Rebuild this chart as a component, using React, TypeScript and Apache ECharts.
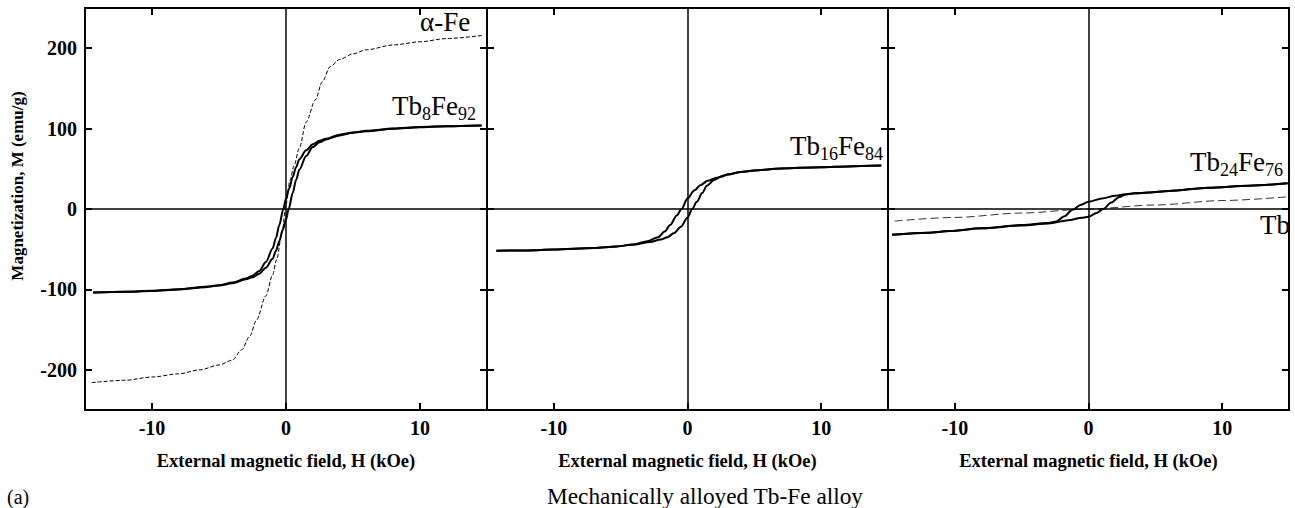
import React, { useEffect, useRef } from "react";
import * as echarts from "echarts";

// Axis ranges and tick positions shared by the three panels
const H_MIN = -15;
const H_MAX = 15;
const M_MIN = -250;
const M_MAX = 250;
const H_TICKS = [-10, 0, 10];
const H_TOP_TICKS = [-10, 10];
const M_TICKS = [-200, -100, 0, 100, 200];
const M_TICK_LABELS = ["-200", "-100", "0", "100", "200"];

// Panel 1: pure alpha-Fe (dashed) and Tb8Fe92 loop, [H (kOe), M (emu/g)]
const alphaFe: [number, number][] = [
  [-14.5, -216], [-12, -213], [-10, -209], [-8, -205], [-6.4, -200], [-5, -194],
  [-4, -188], [-3.3, -175], [-2.7, -158], [-2.2, -138], [-1.5, -108], [-1, -82],
  [-0.7, -63], [-0.3, -30], [0, 6], [0.3, 36], [0.6, 54], [1, 76], [1.5, 108],
  [2.2, 136], [2.7, 158], [3.3, 177], [4, 186], [5, 193], [6, 198], [8, 204],
  [10, 208], [12, 212], [14.7, 216],
];
const tb8Down: [number, number][] = [
  [14.6, 104], [12, 103], [10, 102], [8, 100], [6, 97.2], [5, 95.3], [4, 92.5],
  [3, 87.5], [2.5, 85], [2, 80.5], [1.5, 73], [1, 62], [0.75, 52], [0.5, 40],
  [0.25, 26], [0, 13], [-0.2, 0], [-0.5, -20], [-0.75, -36], [-1, -49],
  [-1.5, -66], [-2, -77], [-2.5, -83], [-3, -86.5], [-4, -91.5], [-5, -94.8],
  [-6, -96.8], [-8, -99.8], [-10, -101.8], [-12, -103], [-14.4, -104],
];
const tb8Up: [number, number][] = [
  [-14.4, -104], [-12, -103], [-10, -102], [-8, -100], [-6, -97.2], [-5, -95.3],
  [-4, -92.5], [-3, -87.5], [-2.5, -85], [-2, -80.5], [-1.5, -73], [-1, -62],
  [-0.75, -52], [-0.5, -40], [-0.25, -26], [0, -13], [0.2, 0], [0.5, 20],
  [0.75, 36], [1, 49], [1.5, 66], [2, 77], [2.5, 83], [3, 86.5], [4, 91.5],
  [5, 94.8], [6, 96.8], [8, 99.8], [10, 101.8], [12, 103], [14.6, 104],
];

// Panel 2: Tb16Fe84 loop
const tb16Down: [number, number][] = [
  [14.5, 54], [12, 53], [10, 52], [7, 50.5], [5, 48], [4, 46], [3, 43],
  [2.2, 39], [1.5, 35], [1, 30], [0.5, 23], [0, 13], [-0.45, 0], [-0.8, -8],
  [-1.3, -20], [-1.7, -28], [-2.2, -35], [-3, -40], [-4, -44], [-5.3, -46.5],
  [-7, -48.5], [-10, -50.5], [-12, -51.5], [-14.3, -52],
];
const tb16Up: [number, number][] = [
  [-14.3, -52], [-12, -51.5], [-10, -50.5], [-7, -48.5], [-5.3, -46.5],
  [-4, -44], [-2.8, -41], [-2, -38], [-1.5, -35], [-1, -30], [-0.5, -22],
  [0, -11], [0.35, 0], [0.7, 9], [1.1, 20], [1.45, 29], [2, 36], [2.5, 40],
  [3, 43], [4, 46], [5, 48], [7, 50.5], [10, 52], [12, 53], [14.5, 54],
];

// Panel 3: Tb24Fe76 loop and pure Tb (dashed)
const tb24Down: [number, number][] = [
  [14.9, 32], [12, 29], [9, 26.5], [6, 22.5], [4.5, 20.5], [3.5, 19.5],
  [2.6, 18], [2, 16.5], [1, 13], [0, 9], [-0.6, 5], [-1.2, -1], [-1.8, -9],
  [-2.4, -15.5], [-3, -17.5], [-5, -20], [-8, -24], [-10.4, -27.5],
  [-12, -29.5], [-14.7, -32],
];
const tb24Up: [number, number][] = [
  [-14.7, -32], [-12, -29.5], [-10.4, -27.5], [-8, -24], [-5, -20.5],
  [-3, -18], [-1.5, -14], [-0.5, -11], [0, -9.5], [0.6, -5], [1.1, 0],
  [1.7, 8], [2.3, 15], [2.8, 18.5], [3.5, 19.5], [4.5, 20.5], [6, 22.5],
  [9, 26.5], [12, 29], [14.9, 32],
];
const pureTb: [number, number][] = [
  [-14.5, -15], [-10, -10.5], [-5, -5], [0, 0], [5, 5], [10, 10.5], [14.8, 15],
];

const FONT = '"Liberation Serif", "Times New Roman", Times, serif';
const X_TITLE = "External magnetic field, H (kOe)";
const Y_TITLE = "Magnetization, M (emu/g)";
const CAPTION = "Mechanically alloyed Tb-Fe alloy";

const GRIDS = [
  { left: 85, width: 402 },
  { left: 487, width: 401 },
  { left: 888, width: 401 },
];

function buildOption() {
  const grid = GRIDS.map((g) => ({
    left: g.left,
    width: g.width,
    top: 8,
    height: 402,
    show: true,
    borderColor: "#000",
    borderWidth: 2,
    backgroundColor: "transparent",
  }));

  const tick = (values: number[]) => ({
    show: true,
    inside: true,
    length: 7,
    customValues: values,
    lineStyle: { color: "#000", width: 2 },
  });
  const noLine = { show: false, onZero: false };

  const xBottom = GRIDS.map((_, i) => ({
    type: "value",
    gridIndex: i,
    position: "bottom",
    min: H_MIN,
    max: H_MAX,
    axisLine: noLine,
    splitLine: { show: false },
    axisTick: tick(H_TICKS),
    axisLabel: {
      customValues: H_TICKS,
      margin: 8,
      color: "#000",
      fontFamily: FONT,
      fontWeight: "bold",
      fontSize: 20,
    },
    name: X_TITLE,
    nameLocation: "middle",
    nameGap: 41,
    nameTextStyle: { color: "#000", fontFamily: FONT, fontWeight: "bold", fontSize: 18.5 },
  }));
  const xTop = GRIDS.map((_, i) => ({
    type: "value",
    gridIndex: i,
    position: "top",
    min: H_MIN,
    max: H_MAX,
    axisLine: noLine,
    splitLine: { show: false },
    axisTick: tick(H_TOP_TICKS),
    axisLabel: { show: false },
  }));
  const yLeft = GRIDS.map((_, i) => ({
    type: "value",
    gridIndex: i,
    position: "left",
    min: M_MIN,
    max: M_MAX,
    axisLine: noLine,
    splitLine: { show: false },
    axisTick: tick(M_TICKS),
    axisLabel: {
      show: i === 0,
      customValues: M_TICKS,
      formatter: (v: number) => M_TICK_LABELS[M_TICKS.indexOf(v)] ?? String(v),
      margin: 8,
      color: "#000",
      fontFamily: FONT,
      fontWeight: "bold",
      fontSize: 20,
    },
  }));
  const yRight = GRIDS.map((_, i) => ({
    type: "value",
    gridIndex: i,
    position: "right",
    min: M_MIN,
    max: M_MAX,
    axisLine: noLine,
    splitLine: { show: false },
    axisTick: tick(M_TICKS),
    axisLabel: { show: false },
  }));

  const zeroLines = {
    silent: true,
    symbol: "none",
    label: { show: false },
    lineStyle: { color: "#000", width: 1.5, type: "solid" },
    data: [{ xAxis: 0 }, { yAxis: 0 }],
  };

  const curve = (
    name: string,
    panel: number,
    data: [number, number][],
    style: Record<string, unknown>,
    withZero = false
  ) => ({
    name,
    type: "line",
    xAxisIndex: panel,
    yAxisIndex: panel,
    data,
    showSymbol: false,
    symbol: "none",
    smooth: 0.3,
    smoothMonotone: "x",
    lineStyle: style,
    z: 3,
    ...(withZero ? { markLine: zeroLines } : {}),
  });

  const solid = { color: "#000", width: 2, type: "solid" };

  const series = [
    curve("α-Fe", 0, alphaFe, { color: "#000", width: 1, type: [4, 2] }, true),
    curve("Tb8Fe92 down", 0, tb8Down, solid),
    curve("Tb8Fe92 up", 0, tb8Up, solid),
    curve("Tb16Fe84 down", 1, tb16Down, solid, true),
    curve("Tb16Fe84 up", 1, tb16Up, solid),
    curve("Tb", 2, pureTb, { color: "#333", width: 1, type: [8, 4] }, true),
    curve("Tb24Fe76 down", 2, tb24Down, solid),
    curve("Tb24Fe76 up", 2, tb24Up, solid),
  ];

  // Curve labels with subscripts via rich text
  const rich = {
    m: { fontSize: 27, fontFamily: FONT, color: "#000", verticalAlign: "top", lineHeight: 27 },
    s: {
      fontSize: 18,
      fontFamily: FONT,
      color: "#000",
      verticalAlign: "top",
      lineHeight: 18,
      padding: [13, 0, 0, 0],
    },
  };
  const label = (text: string, x: number, y: number) => ({
    type: "text",
    x,
    y,
    z: 10,
    style: { text, rich, verticalAlign: "top", align: "left" },
  });

  const graphic = [
    label("{m|α-Fe}", 420, 8),
    label("{m|Tb}{s|8}{m|Fe}{s|92}", 392, 92),
    label("{m|Tb}{s|16}{m|Fe}{s|84}", 790, 132),
    label("{m|Tb}{s|24}{m|Fe}{s|76}", 1190, 148),
    label("{m|Tb}", 1260, 211),
    {
      type: "text",
      x: 17,
      y: 186,
      rotation: Math.PI / 2,
      style: {
        text: Y_TITLE,
        fontSize: 17,
        fontWeight: "bold",
        fontFamily: FONT,
        fill: "#000",
        align: "center",
        verticalAlign: "middle",
      },
    },
    {
      type: "text",
      x: 705,
      y: 496,
      style: {
        text: CAPTION,
        fontSize: 23.3,
        fontFamily: FONT,
        fill: "#000",
        align: "center",
        verticalAlign: "middle",
      },
    },
    {
      type: "text",
      x: 7,
      y: 497,
      style: {
        text: "(a)",
        fontSize: 20,
        fontFamily: FONT,
        fill: "#000",
        align: "left",
        verticalAlign: "middle",
      },
    },
  ];

  return {
    animation: false,
    backgroundColor: "#fff",
    grid,
    xAxis: [...xBottom, ...xTop],
    yAxis: [...yLeft, ...yRight],
    series,
    graphic,
  };
}

export default function App() {
  const ref = useRef<HTMLDivElement>(null);
  useEffect(() => {
    if (!ref.current) return;
    const chart = echarts.init(ref.current, undefined, { renderer: "svg" });
    chart.setOption(buildOption() as any);
    return () => chart.dispose();
  }, []);
  return (
    <div
      ref={ref}
      style={{ position: "fixed", left: 0, top: 0, width: 1295, height: 508, background: "#fff" }}
    />
  );
}
